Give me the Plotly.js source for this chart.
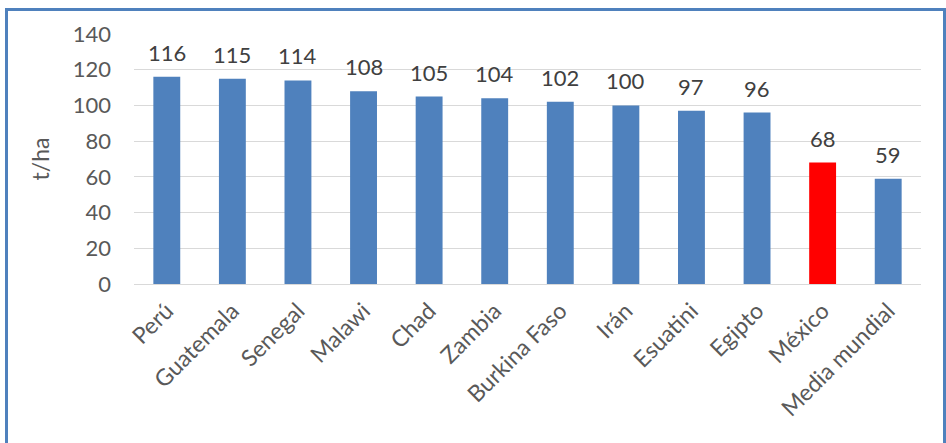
<!DOCTYPE html>
<html>
<head>
<meta charset="utf-8">
<script src="https://cdn.plot.ly/plotly-3.0.1.min.js"></script>
<style>
  html, body { margin: 0; padding: 0; background: #ffffff; overflow: hidden; }
  #wrap { position: relative; width: 946px; height: 443px; }
  #frame {
    position: absolute; left: 5px; top: 8px; width: 935px; height: 460px;
    border: 3px solid #4F81BD; box-sizing: content-box; pointer-events: none; z-index: 2;
  }
  #chart { position: absolute; left: 0; top: 0; width: 946px; height: 443px; }
</style>
</head>
<body>
<div id="wrap">
  <div id="chart"></div>
  <div id="frame"></div>
</div>
<script>
// Rendimiento por país (t/ha)
const paises = ["Perú", "Guatemala", "Senegal", "Malawi", "Chad", "Zambia",
                "Burkina Faso", "Irán", "Esuatini", "Egipto", "México", "Media mundial"];
const rendimiento = [116, 115, 114, 108, 105, 104, 102, 100, 97, 96, 68, 59];
const destacado = "México";
const yTicks = [0, 20, 40, 60, 80, 100, 120, 140];

const azul = "#4F81BD";
const rojo = "#FF0000";
const gris = "#595959";
const fuente = "Lato, 'Open Sans', sans-serif";

const colores = paises.map(p => (p === destacado ? rojo : azul));

const trace = {
  type: "bar",
  x: paises,
  y: rendimiento,
  marker: { color: colores, line: { width: 0 } },
  hoverinfo: "x+y"
};

const etiquetas = paises.map((p, i) => ({
  x: p,
  y: rendimiento[i],
  xref: "x",
  yref: "y",
  text: String(rendimiento[i]),
  showarrow: false,
  yanchor: "bottom",
  yshift: 9,
  font: { family: fuente, size: 22, color: "#404040" }
}));

const layout = {
  width: 946,
  height: 443,
  margin: { l: 134, r: 25, t: 34, b: 159 },
  paper_bgcolor: "rgba(0,0,0,0)",
  plot_bgcolor: "#ffffff",
  showlegend: false,
  bargap: 0.59,
  font: { family: fuente, color: gris, size: 20 },
  xaxis: {
    type: "category",
    tickangle: -45,
    tickfont: { family: fuente, size: 23, color: gris },
    ticklabelstandoff: 8,
    showgrid: false,
    showline: false,
    ticks: "",
    zeroline: false
  },
  yaxis: {
    range: [0, 140],
    tickvals: yTicks,
    ticktext: yTicks.map(String),
    tickfont: { family: fuente, size: 22, color: gris },
    showgrid: true,
    gridcolor: "#d9d9d9",
    gridwidth: 1,
    zeroline: true,
    zerolinecolor: "#d9d9d9",
    zerolinewidth: 1,
    showline: false,
    ticks: "",
    ticklabelstandoff: 22,
    title: {
      text: "t/ha",
      font: { family: fuente, size: 23, color: gris },
      standoff: 16
    }
  },
  annotations: etiquetas
};

Plotly.newPlot("chart", [trace], layout, { displayModeBar: false, staticPlot: true });
</script>
</body>
</html>
